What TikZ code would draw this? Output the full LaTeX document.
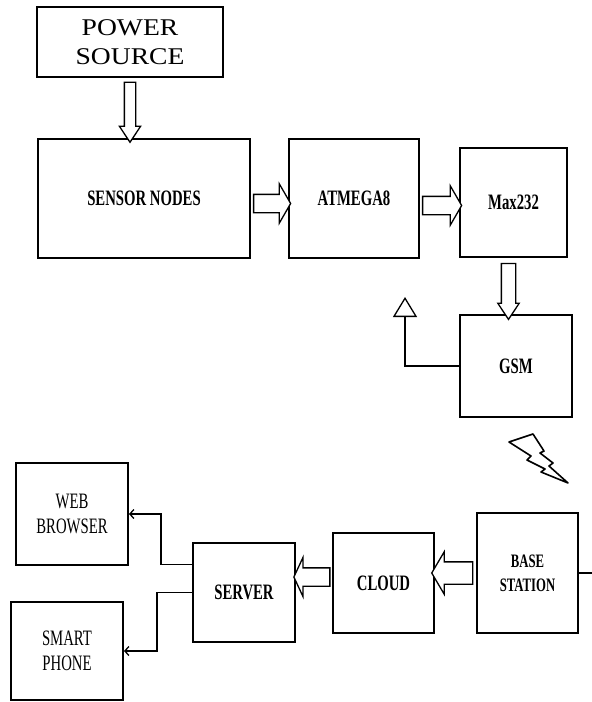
\documentclass[tikz,border=0pt]{standalone}
\usepackage{fontspec}
\setmainfont{Liberation Serif}
\newfontfamily\narrowfont[FakeStretch=0.67]{Liberation Serif}
\newfontfamily\widefont[FakeStretch=1.15]{Liberation Serif}
\usetikzlibrary{shapes.arrows,arrows.meta,positioning,calc}
\tikzset{
  block/.style={rectangle, draw=black, line width=2pt, fill=white, align=center,
                inner sep=2pt, font=\narrowfont\bfseries\fontsize{22}{24}\selectfont},
  plainblock/.style={block, font=\narrowfont\fontsize{22}{25}\selectfont},
  hollow/.style={single arrow, draw=black, fill=white, line width=1.3pt,
                 inner xsep=0pt, single arrow head indent=0pt},
  wire/.style={line width=1.3pt},
}
\newcommand{\blockbox}[4]{%
  \node[block, minimum width=#2, minimum height=#3, #4] (#1) }
\newcommand{\hollowlink}[3]{%
  \path let \p1=(#2), \p2=(#3), \n1={veclen(\x2-\x1,\y2-\y1)},
            \n2={atan2(\y2-\y1,\x2-\x1)} in
    node[hollow, minimum height=\n1, rotate=\n2, #1] at ($(\p1)!.5!(\p2)$) {};}

\begin{document}
\begin{tikzpicture}[x=1pt, y=-1pt, node distance=37pt]
\useasboundingbox (0,0) rectangle (592,702);

\blockbox{psrc}{186pt}{70pt}{at={(130,42)}, font=\widefont\fontsize{24}{29}\selectfont}
  {POWER\\SOURCE};
\blockbox{sensor}{212pt}{119pt}{at={(144,198.5)}}{SENSOR NODES};
\blockbox{atmega}{130pt}{119pt}{right=37pt of sensor}{ATMEGA8};
\blockbox{max}{107pt}{109pt}{at={(513.5,202.5)}}{Max232};
\blockbox{gsm}{112pt}{102pt}{at={(516,366)}}{GSM};

\blockbox{base}{101pt}{120pt}{at={(527.5,573)}, font=\narrowfont\bfseries\fontsize{19}{24}\selectfont}
  {BASE\\STATION};
\blockbox{cloud}{101pt}{100pt}{at={(383.5,583)}}{CLOUD};
\blockbox{server}{102pt}{99pt}{at={(244,592.5)}}{SERVER};
\blockbox{web}{112pt}{102pt}{at={(72,514)}, plainblock}{WEB\\BROWSER};
\blockbox{smart}{112pt}{98pt}{at={(67,651)}, plainblock}{SMART\\PHONE};

\hollowlink{inner ysep=5pt, single arrow head extend=5pt, single arrow tip angle=67}
  {psrc.south}{psrc.south |- sensor.north}
\hollowlink{inner ysep=8.5pt, single arrow head extend=10.5pt, single arrow tip angle=120}
  {$(sensor.east)+(0,5)$}{$(atmega.west)+(0,5)$}
\hollowlink{inner ysep=8.5pt, single arrow head extend=10.5pt, single arrow tip angle=120}
  {$(atmega.east)+(0,7)$}{$(atmega.east -| max.west)+(0,7)$}
\hollowlink{inner ysep=6.5pt, single arrow head extend=3.5pt, single arrow tip angle=67}
  {$(max.south)+(-5,0)$}{$(max.south |- gsm.north)+(-5,0)$}
\hollowlink{inner ysep=10.5pt, single arrow head extend=10pt, single arrow tip angle=119}
  {base.west}{base.west -| cloud.east}
\hollowlink{inner ysep=8.5pt, single arrow head extend=10.5pt, single arrow tip angle=130}
  {$(cloud.west)+(0,-6)$}{$(cloud.west -| server.east)+(0,-6)$}

\coordinate (ant) at (405,297);
\draw[wire, -{Triangle[open, width=24pt, length=20pt]}] (gsm.west) -| (ant);

\coordinate (rimend) at (592,573);
\draw[wire] (base.east) -- (rimend);

\draw[wire, -{Straight Barb[length=4pt, width=9pt]}]
  ([yshift=28pt]server.west) -- ++(-31,0) |- (web.east);
\draw[wire, -{Straight Barb[length=4pt, width=9pt]}]
  (server.west) -- ++(-35,0) |- (smart.east);

\draw[line width=1.6pt, line join=round] (509,442) -- (533,434) -- (544,451) -- (540,453)
  -- (553,463) -- (549,466) -- (568,483) -- (541,472) -- (545,469) -- (527,460)
  -- (531,456) -- cycle;

\end{tikzpicture}
\end{document}
